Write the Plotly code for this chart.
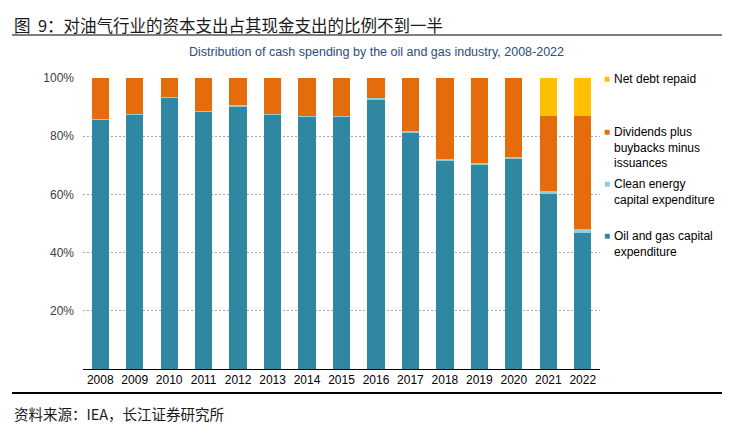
import plotly.graph_objects as go

years = ["2008", "2009", "2010", "2011", "2012", "2013", "2014", "2015",
         "2016", "2017", "2018", "2019", "2020", "2021", "2022"]
oil_gas_capex = [85.6, 87.5, 93.2, 88.4, 90.2, 87.5, 86.7, 86.6, 92.6, 81.2, 71.8, 70.4, 72.3, 60.3, 46.7]
clean_capex = [0.2, 0.2, 0.2, 0.3, 0.4, 0.2, 0.3, 0.3, 0.4, 0.5, 0.5, 0.4, 0.5, 0.8, 1.4]
dividends = [14.2, 12.3, 6.6, 11.3, 9.4, 12.3, 13.0, 13.1, 7.0, 18.3, 27.7, 29.2, 27.2, 25.9, 38.9]
net_debt = [0, 0, 0, 0, 0, 0, 0, 0, 0, 0, 0, 0, 0, 13.0, 13.0]

tick_vals = [20, 40, 60, 80, 100]
tick_text = ["20%", "40%", "60%", "80%", "100%"]

series_names = ["Oil and gas capital<br>expenditure",
                "Clean energy<br>capital expenditure",
                "Dividends plus<br>buybacks minus<br>issuances",
                "Net debt repaid"]
series_values = [oil_gas_capex, clean_capex, dividends, net_debt]
series_colors = ["#2F87A1", "#92CDDC", "#E46C0A", "#FFC000"]

# legend layout (pixel y of first text line, in a 433px tall figure)
legend_y_px = [235, 183, 131, 78]

FONT = "Liberation Sans, Arial, sans-serif"
CJK = "Noto Sans CJK SC, sans-serif"

W, H = 734, 433
L, R, T, B = 83, 134, 78, 64
PW, PH = W - L - R, H - T - B


def px_x(x):
    return (x - L) / PW


def px_y(y):
    return (H - B - y) / PH


fig = go.Figure()
for name, vals, color in zip(series_names, series_values, series_colors):
    fig.add_trace(go.Bar(x=years, y=vals, name=name.replace("<br>", " "),
                         marker_color=color, marker_line_width=0, showlegend=False))

annotations = [
    dict(text="图  9：对油气行业的资本支出占其现金支出的比例不到一半", xref="paper", yref="paper",
         x=px_x(12), y=px_y(25), xanchor="left", yanchor="middle", showarrow=False,
         font=dict(family=CJK, size=16.5, color="#1A1A1A")),
    dict(text="Distribution of cash spending by the oil and gas industry, 2008-2022",
         xref="paper", yref="paper", x=px_x(376), y=px_y(52),
         xanchor="center", yanchor="middle", showarrow=False,
         font=dict(family=FONT, size=12.5, color="#2B4C7E")),
    dict(text="资料来源：IEA，长江证券研究所", xref="paper", yref="paper",
         x=px_x(12), y=px_y(413), xanchor="left", yanchor="middle", showarrow=False,
         font=dict(family=CJK, size=14.5, color="#1A1A1A")),
]
for name, color, ypx in zip(series_names, series_colors, legend_y_px):
    annotations.append(dict(text="■", xref="paper", yref="paper", x=px_x(602), y=px_y(ypx),
                            xanchor="left", yanchor="middle", showarrow=False,
                            font=dict(family=FONT, size=10, color=color)))
    annotations.append(dict(text=name, xref="paper", yref="paper", x=px_x(612), y=px_y(ypx - 8),
                            xanchor="left", yanchor="top", align="left", showarrow=False,
                            font=dict(family=FONT, size=12, color="#000000")))

fig.update_layout(
    width=W, height=H,
    barmode="stack", bargap=0.5,
    paper_bgcolor="white", plot_bgcolor="white",
    margin=dict(l=L, r=R, t=T, b=B, autoexpand=False),
    font=dict(family=FONT, size=11, color="#000000"),
    showlegend=False,
    xaxis=dict(showline=True, linecolor="#000000", linewidth=1, ticks="",
               tickfont=dict(size=12, color="#000000"), showgrid=False, automargin=False),
    yaxis=dict(range=[0, 100], tickmode="array", tickvals=tick_vals, ticktext=tick_text,
               showgrid=True, gridcolor="#A6A6A6", griddash="2px,2px", gridwidth=1,
               zeroline=False, showline=False, tickfont=dict(size=12, color="#404040"),
               ticks="", ticklabelstandoff=8, automargin=False),
    annotations=annotations,
    shapes=[
        dict(type="line", xref="paper", yref="paper", x0=px_x(12), x1=px_x(722),
             y0=px_y(35), y1=px_y(35), line=dict(color="#000000", width=1.2)),
        dict(type="line", xref="paper", yref="paper", x0=px_x(12), x1=px_x(722),
             y0=px_y(393), y1=px_y(393), line=dict(color="#000000", width=2.2)),
    ],
)

fig.write_html("out.html", config={"displayModeBar": False},
               post_script="document.body.style.margin='0';document.body.style.overflow='hidden';")
